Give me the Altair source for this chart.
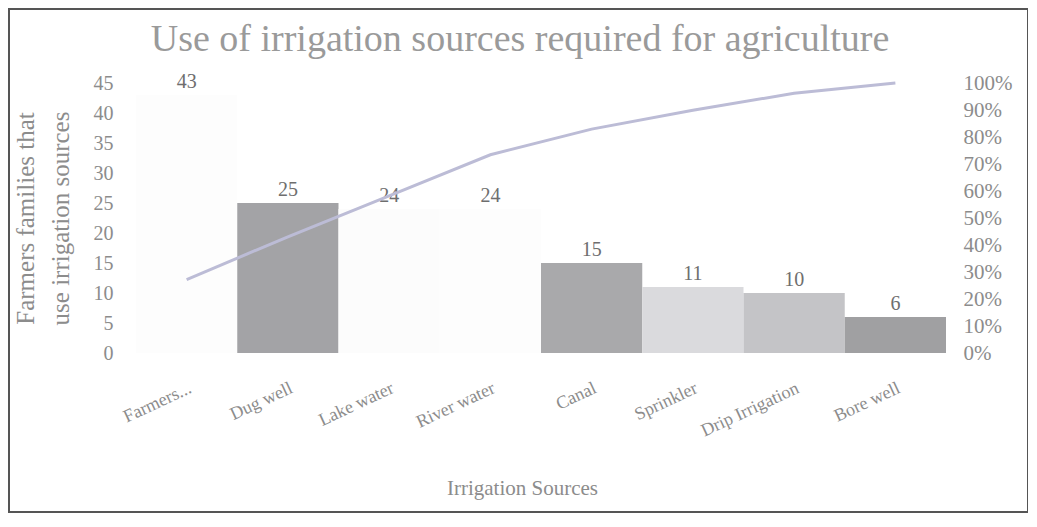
import altair as alt
import pandas as pd

categories = ["Farmers...", "Dug well", "Lake water", "River water", "Canal",
              "Sprinkler", "Drip Irrigation", "Bore well"]
counts = [43, 25, 24, 24, 15, 11, 10, 6]
bar_colors = ["#fdfdfd", "#a3a3a6", "#fcfcfc", "#fdfdfd", "#a9a9ab",
              "#dadadd", "#c4c4c7", "#a0a0a2"]
left_ticks = [0, 5, 10, 15, 20, 25, 30, 35, 40, 45]
right_ticks = [0, 0.1, 0.2, 0.3, 0.4, 0.5, 0.6, 0.7, 0.8, 0.9, 1.0]

df = pd.DataFrame({"source": categories, "count": counts,
                   "order": list(range(len(categories)))})

FONT = "Liberation Serif"
TXT = "#8c8c8c"

base = alt.Chart(df).encode(
    x=alt.X("source:N", sort=categories,
            scale=alt.Scale(paddingInner=0, paddingOuter=0),
            axis=alt.Axis(title="Irrigation Sources", labelAngle=-25,
                          labelAlign="right", labelBaseline="top",
                          labelPadding=26, ticks=False, domain=False,
                          labelFont=FONT, labelFontSize=18, labelColor=TXT,
                          titleFont=FONT, titleFontSize=21, titleColor=TXT,
                          titleFontWeight="normal", titleX=386, titleY=135,
                          titleAlign="center", titleBaseline="middle"))
)

bars = base.mark_bar().encode(
    y=alt.Y("count:Q", scale=alt.Scale(domain=[0, 45], nice=False),
            axis=alt.Axis(values=left_ticks, orient="left", ticks=False,
                          domain=False, grid=False, labelPadding=23,
                          labelFont=FONT, labelFontSize=20, labelColor=TXT,
                          title=["Farmers families that", "use irrigation sources"],
                          titleFont=FONT, titleFontSize=25, titleColor=TXT,
                          titleFontWeight="normal", titleLineHeight=35,
                          titlePadding=20)),
    color=alt.Color("source:N", sort=categories,
                    scale=alt.Scale(domain=categories, range=bar_colors),
                    legend=None),
)

labels = base.mark_text(baseline="bottom", dy=-3, font=FONT, fontSize=20,
                        color="#6e6e6e").encode(
    y=alt.Y("count:Q", scale=alt.Scale(domain=[0, 45], nice=False), axis=None),
    text="count:Q",
)

line = base.mark_line(color="#bcbcd6", strokeWidth=3).transform_window(
    cum="sum(count)", sort=[alt.SortField("order")]
).transform_joinaggregate(
    total="sum(count)"
).transform_calculate(
    pct="datum.cum / datum.total"
).encode(
    y=alt.Y("pct:Q", scale=alt.Scale(domain=[0, 1], nice=False),
            axis=alt.Axis(values=right_ticks, orient="right", format=".0%",
                          ticks=False, domain=False, grid=False,
                          labelPadding=17, labelFont=FONT, labelFontSize=21,
                          labelColor=TXT, title=None)),
)

frame = alt.Chart(alt.Data(values=[{}])).mark_rect(
    fill=None, stroke="#555555", strokeWidth=2
).encode(x=alt.value(-127), x2=alt.value(892),
         y=alt.value(-74), y2=alt.value(429))

chart = alt.layer(bars, labels, line, frame).resolve_scale(
    y="independent"
).properties(
    width=810, height=270,
    autosize=alt.AutoSizeParams(type="none"),
    padding={"left": 128, "top": 75, "right": 82, "bottom": 164},
    title=alt.TitleParams("Use of irrigation sources required for agriculture",
                          font=FONT, fontSize=38, fontWeight="normal",
                          color="#9a9a9a", anchor="middle", dx=-21, offset=-51),
).configure(background="white").configure_view(stroke=None)

chart.save("out.html", embed_options={"renderer": "svg", "actions": False})
